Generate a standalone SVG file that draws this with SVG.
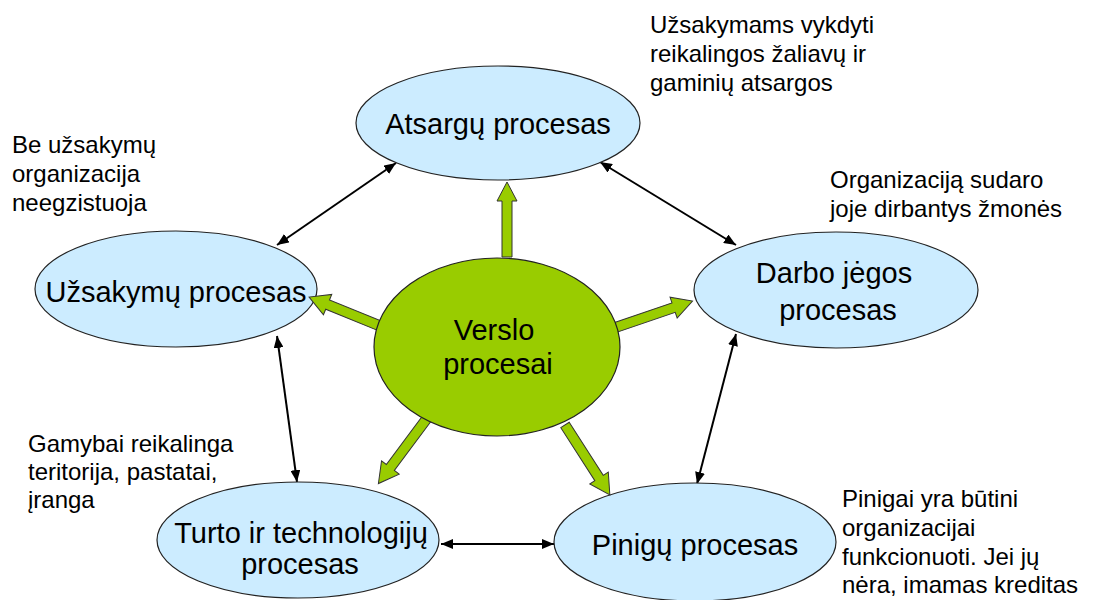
<svg xmlns="http://www.w3.org/2000/svg" width="1099" height="600" viewBox="0 0 1099 600">
  <style>
    .proc { fill: #CCECFF; stroke: #222; stroke-width: 1.2; }
    .core { fill: #99CC00; stroke: #222; stroke-width: 1.2; }
    .lbl { font-family: "Liberation Sans", Arial, sans-serif; font-size: 29px; fill: #000; text-anchor: middle; }
    .note { font-family: "Liberation Sans", Arial, sans-serif; font-size: 24px; fill: #000; }
    .link { stroke: #000; stroke-width: 2; fill: none; marker-start: url(#tip); marker-end: url(#tip); }
    .flow { fill: #99CC00; stroke: #333; stroke-width: 1; stroke-linejoin: miter; }
  </style>
  <defs>
    <marker id="tip" viewBox="0 0 12 10" refX="12" refY="5" markerWidth="12" markerHeight="10" markerUnits="userSpaceOnUse" orient="auto-start-reverse">
      <path d="M0,0 L12,5 L0,10 Z" fill="#000"/>
    </marker>
  </defs>

  <rect width="1099" height="600" fill="#fff"/>

  <!-- two-way links between neighbouring processes -->
  <g id="connectors">
    <line class="link" x1="396" y1="163" x2="277" y2="245"/>
    <line class="link" x1="600" y1="162" x2="736" y2="245"/>
    <line class="link" x1="277" y1="336" x2="297" y2="482"/>
    <line class="link" x1="736" y1="334" x2="697" y2="484"/>
    <line class="link" x1="441" y1="544" x2="554" y2="544"/>
  </g>

  <g id="atsargu">
    <ellipse class="proc" cx="498" cy="123" rx="142" ry="57"/>
    <text class="lbl" x="498" y="134">Atsargų procesas</text>
  </g>

  <g id="uzsakymu">
    <ellipse class="proc" cx="176" cy="289" rx="141" ry="58"/>
    <text class="lbl" x="176" y="302">Užsakymų procesas</text>
  </g>

  <g id="darbo">
    <ellipse class="proc" cx="836" cy="290" rx="142" ry="58"/>
    <text class="lbl" x="834" y="283">Darbo jėgos</text>
    <text class="lbl" x="838" y="320">procesas</text>
  </g>

  <g id="turto">
    <ellipse class="proc" cx="298" cy="540" rx="141" ry="58"/>
    <text class="lbl" x="301" y="543">Turto ir technologijų</text>
    <text class="lbl" x="300" y="574">procesas</text>
  </g>

  <g id="pinigu">
    <ellipse class="proc" cx="695" cy="542" rx="141" ry="59"/>
    <text class="lbl" x="695" y="555">Pinigų procesas</text>
  </g>

  <!-- block arrows radiating from the core -->
  <g id="flows">
    <path class="flow" transform="translate(507,257) rotate(-90)" d="M0,-5 L56,-5 L56,-10 L75,0 L56,10 L56,5 L0,5 Z"/>
    <path class="flow" transform="translate(614,328) rotate(-18.9)" d="M0,-5 L63,-5 L63,-11 L83,0 L63,11 L63,5 L0,5 Z"/>
    <path class="flow" transform="translate(385,328) rotate(-157.8)" d="M0,-5 L62,-5 L62,-11 L82,0 L62,11 L62,5 L0,5 Z"/>
    <path class="flow" transform="translate(428,417) rotate(126.7)" d="M0,-5 L63,-5 L63,-11 L83,0 L63,11 L63,5 L0,5 Z"/>
    <path class="flow" transform="translate(565,425) rotate(57.3)" d="M0,-5 L63,-5 L63,-11 L83,0 L63,11 L63,5 L0,5 Z"/>
  </g>

  <g id="verslo">
    <ellipse class="core" cx="497" cy="347" rx="123" ry="89"/>
    <text class="lbl" x="494" y="340">Verslo</text>
    <text class="lbl" x="498" y="374">procesai</text>
  </g>

  <!-- explanatory notes -->
  <g id="notes">
    <text class="note" x="650" y="33">Užsakymams vykdyti</text>
    <text class="note" x="650" y="62">reikalingos žaliavų ir</text>
    <text class="note" x="650" y="91">gaminių atsargos</text>

    <text class="note" x="12" y="153">Be užsakymų</text>
    <text class="note" x="12" y="182">organizacija</text>
    <text class="note" x="12" y="211">neegzistuoja</text>

    <text class="note" x="830" y="188">Organizaciją sudaro</text>
    <text class="note" x="830" y="217">joje dirbantys žmonės</text>

    <text class="note" x="28" y="452">Gamybai reikalinga</text>
    <text class="note" x="28" y="480">teritorija, pastatai,</text>
    <text class="note" x="28" y="508">įranga</text>

    <text class="note" x="842" y="507">Pinigai yra būtini</text>
    <text class="note" x="842" y="536">organizacijai</text>
    <text class="note" x="842" y="565">funkcionuoti. Jei jų</text>
    <text class="note" x="842" y="593">nėra, imamas kreditas</text>
  </g>
</svg>
